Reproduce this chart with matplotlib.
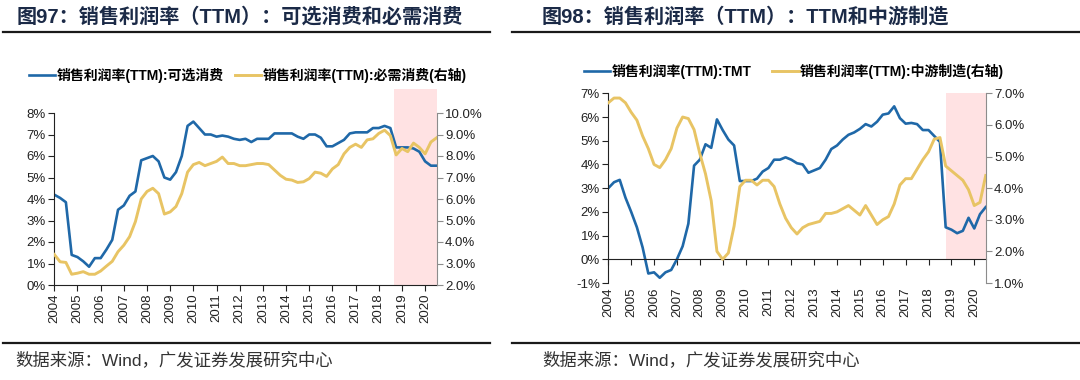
import matplotlib
matplotlib.use('Agg')
import matplotlib.pyplot as plt
from matplotlib.lines import Line2D
from matplotlib.patches import Rectangle
import matplotlib.transforms as mtransforms
import numpy as np

plt.rcParams['font.family'] = ['Liberation Sans', 'Noto Sans CJK SC']
plt.rcParams['axes.unicode_minus'] = False

# quarterly points, 2004Q1 .. 2020Q3
years = [str(y) for y in range(2004, 2021)]

# fig 97: 可选消费 (left axis, %) / 必需消费 (right axis, %)
optional = [4.2, 4.05, 3.85, 1.4, 1.3, 1.1, 0.85, 1.25, 1.25, 1.65, 2.1, 3.5, 3.7, 4.15, 4.35,
            5.8, 5.9, 6.0, 5.75, 5.0, 4.9, 5.25, 6.0, 7.4, 7.6, 7.3, 7.0, 7.0, 6.9, 6.95, 6.9,
            6.8, 6.75, 6.8, 6.65, 6.8, 6.8, 6.8, 7.05, 7.05, 7.05, 7.05, 6.9, 6.8, 7.0, 7.0,
            6.85, 6.45, 6.45, 6.6, 6.75, 7.05, 7.1, 7.1, 7.1, 7.3, 7.3, 7.4, 7.3, 6.4, 6.4,
            6.4, 6.35, 6.2, 5.75, 5.55, 5.55]
necessary = [3.42, 3.08, 3.05, 2.5, 2.55, 2.62, 2.5, 2.5, 2.65, 2.88, 3.1, 3.55, 3.85, 4.25,
             4.95, 6.0, 6.35, 6.5, 6.25, 5.3, 5.4, 5.65, 6.25, 7.25, 7.6, 7.7, 7.55, 7.65, 7.75,
             7.95, 7.65, 7.65, 7.55, 7.55, 7.6, 7.65, 7.65, 7.6, 7.35, 7.1, 6.92, 6.88, 6.77,
             6.8, 6.95, 7.25, 7.2, 7.05, 7.4, 7.6, 8.1, 8.4, 8.55, 8.4, 8.75, 8.8, 9.05, 9.2,
             8.95, 8.05, 8.35, 8.2, 8.6, 8.4, 8.1, 8.65, 8.85]

# fig 98: TMT (left axis, %) / 中游制造 (right axis, %)
tmt = [3.0, 3.25, 3.35, 2.6, 2.0, 1.35, 0.5, -0.6, -0.55, -0.78, -0.55, -0.45, 0.0, 0.55, 1.5,
       3.95, 4.2, 4.85, 4.7, 5.9, 5.45, 5.05, 4.8, 3.3, 3.3, 3.3, 3.4, 3.7, 3.85, 4.2, 4.2,
       4.3, 4.2, 4.05, 4.0, 3.65, 3.75, 3.85, 4.2, 4.65, 4.8, 5.05, 5.25, 5.35, 5.5, 5.7, 5.6,
       5.8, 6.1, 6.15, 6.45, 5.95, 5.72, 5.75, 5.7, 5.45, 5.45, 5.2, 4.95, 1.35, 1.25, 1.1,
       1.2, 1.75, 1.3, 1.9, 2.2]
midstream = [6.7, 6.85, 6.85, 6.7, 6.4, 6.15, 5.65, 5.25, 4.75, 4.65, 4.9, 5.25, 5.9, 6.25,
             6.2, 5.85, 5.1, 4.45, 3.6, 2.0, 1.75, 1.95, 2.8, 4.05, 4.25, 4.25, 4.1, 4.25, 4.25,
             4.05, 3.5, 3.05, 2.75, 2.55, 2.75, 2.85, 2.9, 2.95, 3.2, 3.2, 3.25, 3.35, 3.45, 3.3,
             3.15, 3.45, 3.15, 2.85, 3.0, 3.1, 3.5, 4.1, 4.3, 4.3, 4.6, 4.9, 5.15, 5.55, 5.6,
             4.7, 4.55, 4.4, 4.25, 3.95, 3.45, 3.55, 4.4]

blue = '#1f68a8'
yellow = '#e8c464'
pink = '#ffe2e3'
grey = '#8c8c8c'
W, H = 1080, 380

fig = plt.figure(figsize=(W / 100, H / 100), dpi=100)


def px(x0, y0, x1, y1):
    return [x0 / W, 1 - y1 / H, (x1 - x0) / W, (y1 - y0) / H]


def style(ax, axr, ticks_fmt_l, ticks_fmt_r):
    for s in ['top', 'right']:
        ax.spines[s].set_visible(False)
    for s in ['top', 'left', 'bottom']:
        axr.spines[s].set_visible(False)
    axr.spines['right'].set_color(grey)
    ax.spines['left'].set_color('#222222')
    ax.spines['bottom'].set_color('#222222')
    ax.tick_params(axis='y', length=4, color='#222222', labelsize=9.5, labelcolor='#222222', pad=2)
    axr.tick_params(axis='y', length=4, color=grey, labelsize=9.5, labelcolor='#222222', pad=2)
    ax.yaxis.set_major_formatter(ticks_fmt_l)
    axr.yaxis.set_major_formatter(ticks_fmt_r)


n = len(optional)
x = np.arange(n)
xt = np.arange(0, 4 * len(years), 4)

# ---------- left: 图97 ----------
ax1 = fig.add_axes(px(54.3, 113, 436.7, 285))
ax1r = ax1.twinx()
ax1.add_patch(Rectangle((58.7, 0), n - 1 - 58.7, 1.14, color=pink, lw=0, clip_on=False,
                        transform=mtransforms.blended_transform_factory(ax1.transData, ax1.transAxes),
                        zorder=0))
l1, = ax1.plot(x, optional, color=blue, lw=1.9, label='销售利润率(TTM):可选消费')
l2, = ax1r.plot(x, necessary, color=yellow, lw=2.1, label='销售利润率(TTM):必需消费(右轴)')
ax1.set_xlim(0, n - 1)
ax1.set_ylim(0, 8)
ax1r.set_ylim(2, 10)
ax1.set_yticks(range(0, 9))
ax1r.set_yticks(range(2, 11))
style(ax1, ax1r, lambda v, p: f'{v:.0f}%', lambda v, p: f'{v:.1f}%')
ax1.set_xticks(xt)
ax1.set_xticklabels(years, rotation=90, fontsize=9.5, color='#222222')
ax1.tick_params(axis='x', length=4, color='#222222', pad=2)
fig.legend(handles=[l1, l2], loc='center', bbox_to_anchor=(248 / W, 1 - 75 / H), ncol=2,
           frameon=False, handlelength=1.9, handletextpad=0.1,
           columnspacing=0.8, prop={'size': 10, 'weight': 'bold'})

# ---------- right: 图98 ----------
ax2 = fig.add_axes(px(608.3, 93.3, 985.7, 283))
ax2r = ax2.twinx()
ax2.fill_between([59.1, n - 1], 0, 7, color=pink, lw=0, zorder=0)
l3, = ax2.plot(x, tmt, color=blue, lw=1.9, label='销售利润率(TTM):TMT')
l4, = ax2r.plot(x, midstream, color=yellow, lw=2.1, label='销售利润率(TTM):中游制造(右轴)')
ax2.set_xlim(0, n - 1)
ax2.set_ylim(-1, 7)
ax2r.set_ylim(1, 7)
ax2.set_yticks(range(-1, 8))
ax2r.set_yticks(range(1, 8))
style(ax2, ax2r, lambda v, p: f'{v:.0f}%', lambda v, p: f'{v:.1f}%')
ax2.spines['bottom'].set_position(('data', 0))
ax2.set_xticks(xt)
ax2.tick_params(axis='x', length=4, color='#222222', labelbottom=False)
sec = ax2.secondary_xaxis('bottom')
sec.set_xticks(xt)
sec.set_xticklabels(years, rotation=90, fontsize=9.5, color='#222222')
sec.tick_params(length=0, pad=3)
sec.spines['bottom'].set_visible(False)
fig.legend(handles=[l3, l4], loc='center', bbox_to_anchor=(794 / W, 1 - 71 / H), ncol=2,
           frameon=False, handlelength=1.9, handletextpad=0.1,
           columnspacing=1.5, prop={'size': 10, 'weight': 'bold'})

# ---------- titles, rules, sources ----------
title_color = '#1b2a47'
fig.text(17 / W, 1 - 17 / H, '图97：销售利润率（TTM）：可选消费和必需消费', fontsize=14.5,
         fontweight='bold', color=title_color, va='center', ha='left')
fig.text(542 / W, 1 - 17 / H, '图98：销售利润率（TTM）：TTM和中游制造', fontsize=14.5,
         fontweight='bold', color=title_color, va='center', ha='left')
for x0, x1 in [(3, 490), (512, 1080)]:
    for yy in [31.5, 343]:
        fig.add_artist(Line2D([x0 / W, x1 / W], [1 - yy / H] * 2, color='#1a1a1a', lw=1.6))
for x0 in [15, 542]:
    fig.text(x0 / W, 1 - 360 / H, '数据来源：Wind，广发证券发展研究中心', fontsize=12.5,
             color='#333333', va='center', ha='left')

fig.savefig('out.png', dpi=100)
